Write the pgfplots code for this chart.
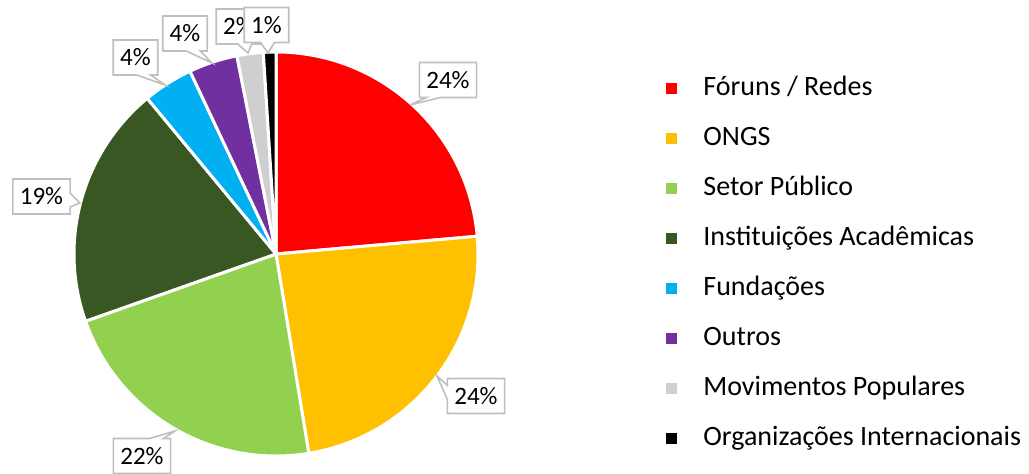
\documentclass[border=0pt]{standalone}
\usepackage{fontspec}
\setmainfont{Carlito}
\usepackage{pgfplots}
\usepackage{pgfplotstable}
\pgfplotsset{compat=1.18}
\usetikzlibrary{shapes.callouts}

\definecolor{cRed}{HTML}{FF0000}
\definecolor{cOrange}{HTML}{FFC000}
\definecolor{cGreen}{HTML}{92D050}
\definecolor{cDkGreen}{HTML}{385723}
\definecolor{cCyan}{HTML}{00B0F0}
\definecolor{cPurple}{HTML}{7030A0}
\definecolor{cGrey}{HTML}{D0CECE}
\definecolor{cBlack}{HTML}{000000}
\definecolor{cBox}{HTML}{BFBFBF}

\newcommand\labfont{\fontsize{12.5}{14}\selectfont}

% share (%), colour, label box centre (px), callout tip (px), name
\pgfplotstableread[col sep=comma]{
value,col,lx,ly,px,py,name
23.6,cRed,448,80,410,105,Fóruns / Redes
23.8,cOrange,476,396,437,376,ONGS
22.2,cGreen,142,456,175,431,Setor Público
19.4,cDkGreen,41.5,196.5,80,203,Instituições Acadêmicas
4.0,cCyan,135.5,57.5,165,85,Fundações
3.9,cPurple,185,33.5,212,63,Outros
2.1,cGrey,238.5,26.5,248,53,Movimentos Populares
1.0,cBlack,266.5,25,268,53,Organizações Internacionais
}\slices

\begin{document}
\begin{tikzpicture}
\begin{axis}[
  x=0.5pt, y=0.5pt,
  xmin=0, xmax=1029, ymin=-474, ymax=0,
  hide axis, clip=false,
  legend style={draw=none, fill=none, inner sep=0pt,
    at={(axis cs:666,-75)}, anchor=north west,
    font=\fontsize{14}{16}\selectfont, row sep=12pt,
    nodes={inner sep=0pt, text height=10pt, text depth=3pt},
    /tikz/every odd column/.append style={column sep=13pt}},
  legend cell align=left,
  legend image code/.code={\fill[#1] (0pt,-2.75pt) rectangle (5.5pt,2.75pt);},
]
\coordinate (SW) at (axis cs:0,-474);
\coordinate (NE) at (axis cs:1029,0);

% wedges, clockwise from 12 o'clock
\def\angA{90}
\pgfplotsforeachungrouped \slidx in {0,...,7}{%
  \pgfplotstablegetelem{\slidx}{value}\of\slices \let\slval\pgfplotsretval
  \pgfplotstablegetelem{\slidx}{col}\of\slices \let\slcol\pgfplotsretval
  \pgfplotstablegetelem{\slidx}{name}\of\slices \let\slname\pgfplotsretval
  \pgfmathsetmacro\angB{\angA-3.6*\slval}
  \edef\temp{\noexpand\filldraw[fill=\slcol, draw=white, line width=1.5pt, line join=round]
    (axis cs:276,-254) -- ++(\angA:101pt) arc[start angle=\angA, end angle=\angB, radius=101pt] -- cycle;
    \noexpand\addlegendimage{fill=\slcol, draw=none}
    \noexpand\addlegendentry{\slname}}%
  \temp
  \global\let\angA\angB
}

% data labels
\pgfplotsforeachungrouped \slidx in {0,...,7}{%
  \pgfplotstablegetelem{\slidx}{value}\of\slices \let\slval\pgfplotsretval
  \pgfplotstablegetelem{\slidx}{lx}\of\slices \let\lx\pgfplotsretval
  \pgfplotstablegetelem{\slidx}{ly}\of\slices \let\ly\pgfplotsretval
  \pgfplotstablegetelem{\slidx}{px}\of\slices \let\px\pgfplotsretval
  \pgfplotstablegetelem{\slidx}{py}\of\slices \let\py\pgfplotsretval
  \pgfmathtruncatemacro\lbl{round(\slval)}
  \edef\temp{\noexpand\node[rectangle callout, draw=cBox, fill=white, line width=0.8pt,
    font=\noexpand\labfont, inner xsep=3.5pt, inner ysep=0pt, minimum height=17.5pt,
    callout absolute pointer={(axis cs:\px,-\py)}, callout pointer width=7pt]
    at (axis cs:\lx,-\ly) {\lbl\noexpand\%};}%
  \temp
}
\end{axis}
\pgfresetboundingbox
\path[use as bounding box] (SW) rectangle (NE);
\end{tikzpicture}
\end{document}
